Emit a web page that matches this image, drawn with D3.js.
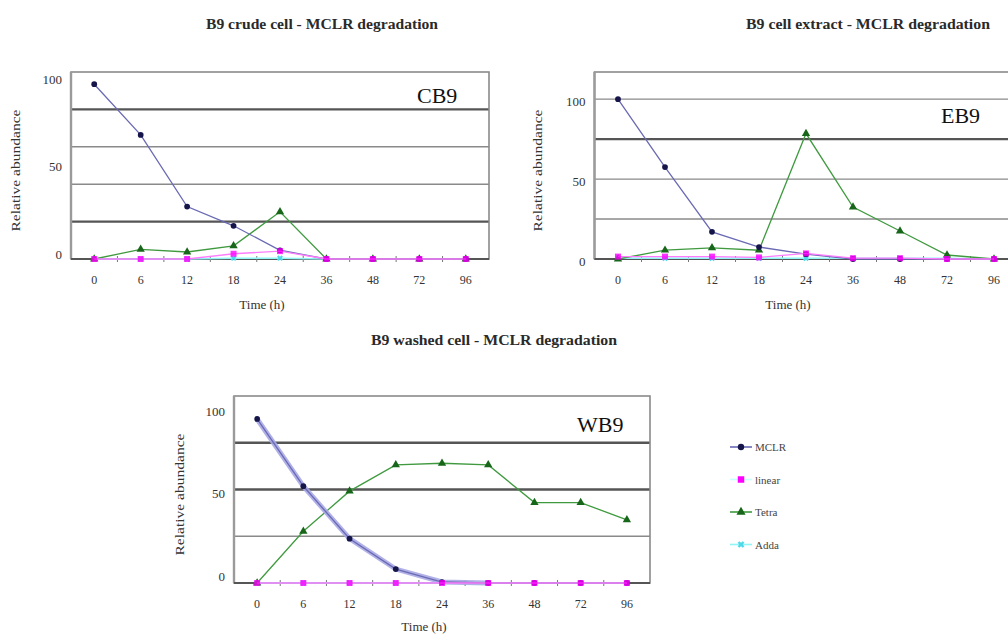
<!DOCTYPE html>
<html>
<head>
<meta charset="utf-8">
<script src="https://cdn.jsdelivr.net/npm/d3@7"></script>
<style>
  body { margin: 0; background: #fff; }
  svg { display: block; }
  svg text { font-family: "Liberation Serif", "DejaVu Serif", serif; }
</style>
</head>
<body>
<svg id="chart" width="1008" height="639"></svg>
<script>
// ─── Data ──────────────────────────────────────────────────────────────
const times = ["0", "6", "12", "18", "24", "36", "48", "72", "96"];
const yTicks = [0, 50, 100];
const seriesNames = ["MCLR", "linear", "Tetra", "Adda"];

// crude cell (CB9)
const cb9MCLR   = [100, 71, 30, 19, 5, 0, 0, 0, 0];
const cb9Linear = [0, 0, 0, 3, 4.5, 0, 0, 0, 0];
const cb9Tetra  = [0, 5.5, 4, 7.5, 27, 0, 0, 0, 0];
const cb9Adda   = [0, 0, 0, 0.5, 0.5, 0, 0, 0, 0];

// cell extract (EB9)
const eb9MCLR   = [100, 57.5, 17, 7.5, 3, 0, 0, 0, 0];
const eb9Linear = [1.5, 1.5, 1.5, 1, 3.5, 0.5, 0.5, 0, 0];
const eb9Tetra  = [0, 5.5, 7, 5.5, 78.5, 32.5, 17.5, 2.5, 0];
const eb9Adda   = [0.5, 0.5, 0.5, 0.5, 0.5, 0.5, 0.5, 0.5, 0];

// washed cell (WB9)
const wb9MCLR   = [100, 59, 27, 8.5, 0.6, 0, 0, 0, 0];
const wb9Linear = [0, 0, 0, 0, 0, 0, 0, 0, 0];
const wb9Tetra  = [0, 31.5, 56, 72, 73, 72, 49, 49, 38.5];
const wb9Adda   = [0, 0, 0, 0, 0, 0, 0, 0, 0];

// ─── Styles ────────────────────────────────────────────────────────────
const STYLE = {
  MCLR:   { line: "#6a6ab4", mark: "#15154a", shape: d3.symbolCircle, size: 26 },
  linear: { line: "#ff7cff", mark: "#ff00ff", shape: d3.symbolSquare, size: 36 },
  Tetra:  { line: "#3f9a3f", mark: "#17661a", shape: d3.symbolTriangle, size: 30 },
  Adda:   { line: "#8ff5f5", mark: "#4fd8e8", shape: d3.symbolCross, size: 22 }
};

const svg = d3.select("#chart");

const panels = [
  {
    title: "B9 crude cell - MCLR degradation", titleX: 322, titleY: 29, titleLen: 232,
    tag: "CB9", tagX: 417, tagY: 103,
    left: 71, right: 489, top: 72, bottom: 259, yMax: 107,
    grid: [1, 2, 3, 4].map(i => 107 * i / 5), heavy: [1, 4],
    yTitleX: 20, xTitleY: 309, labelDy: -5,
    series: [cb9Adda, cb9Tetra, cb9MCLR, cb9Linear]
  },
  {
    title: "B9 cell extract - MCLR degradation", titleX: 868, titleY: 29, titleLen: 244,
    tag: "EB9", tagX: 941, tagY: 123,
    left: 594.5, right: 1017.5, top: 72, bottom: 259, yMax: 117,
    grid: [25, 50, 75, 100], heavy: [3],
    yTitleX: 542, xTitleY: 309, labelDy: 2,
    series: [eb9Adda, eb9Tetra, eb9MCLR, eb9Linear]
  },
  {
    title: "B9 washed cell - MCLR degradation", titleX: 494, titleY: 345, titleLen: 246,
    tag: "WB9", tagX: 577, tagY: 432,
    left: 234, right: 650, top: 396, bottom: 583, yMax: 114,
    grid: [1, 2, 3].map(i => 114 * i / 4), heavy: [2, 3],
    yTitleX: 184, xTitleY: 631, labelDy: -7, thickMCLR: 6,
    series: [wb9Adda, wb9Tetra, wb9MCLR, wb9Linear]
  }
];
const drawOrder = ["Adda", "Tetra", "MCLR", "linear"];

function drawPanel(p) {
  const g = svg.append("g");
  const x = d3.scaleBand().domain(times).range([p.left, p.right]);
  const y = d3.scaleLinear().domain([0, p.yMax]).range([p.bottom, p.top]);
  const cx = t => x(t) + x.bandwidth() / 2;

  // title
  g.append("text").attr("x", p.titleX).attr("y", p.titleY)
    .attr("text-anchor", "middle").attr("font-size", 14).attr("font-weight", "bold")
    .attr("fill", "#2a2a2a").attr("textLength", p.titleLen).attr("lengthAdjust", "spacingAndGlyphs")
    .text(p.title);

  // gridlines
  g.selectAll(".grid").data(p.grid).join("line")
    .attr("x1", p.left).attr("x2", p.right)
    .attr("y1", d => y(d)).attr("y2", d => y(d))
    .attr("stroke", (d, i) => p.heavy.includes(i + 1) ? "#555" : "#8a8a8a")
    .attr("stroke-width", (d, i) => p.heavy.includes(i + 1) ? 2.4 : 1.4);

  // frame
  g.append("rect").attr("x", p.left).attr("y", p.top)
    .attr("width", p.right - p.left).attr("height", p.bottom - p.top)
    .attr("fill", "none").attr("stroke", "#8a8a8a").attr("stroke-width", 1.6);
  g.append("line").attr("x1", p.left).attr("x2", p.left).attr("y1", p.top).attr("y2", p.bottom)
    .attr("stroke", "#9a9a9a").attr("stroke-width", 2.4);
  g.append("line").attr("x1", p.left).attr("x2", p.right).attr("y1", p.bottom).attr("y2", p.bottom)
    .attr("stroke", "#555").attr("stroke-width", 2);

  // minor x ticks at category boundaries
  g.selectAll(".mt").data(times.slice(1)).join("line")
    .attr("x1", d => x(d)).attr("x2", d => x(d))
    .attr("y1", p.bottom - 3).attr("y2", p.bottom + 3)
    .attr("stroke", "#777").attr("stroke-width", 1);

  // axes
  const xa = g.append("g").attr("transform", `translate(0,${p.bottom})`)
    .call(d3.axisBottom(x).tickSize(0).tickPadding(16));
  xa.attr("font-family", null);
  xa.select(".domain").remove();
  xa.selectAll("text").attr("font-size", 12).attr("fill", "#333");

  const ya = g.append("g").attr("transform", `translate(${p.left},0)`)
    .call(d3.axisLeft(y).tickValues(yTicks).tickSize(0).tickPadding(9));
  ya.attr("font-family", null);
  ya.select(".domain").remove();
  ya.selectAll("text").attr("font-size", 13).attr("fill", "#333").attr("dy", p.labelDy + 4);

  // axis titles
  g.append("text").attr("x", cx("24") - 18).attr("y", p.xTitleY)
    .attr("text-anchor", "middle").attr("font-size", 13).attr("fill", "#333").text("Time (h)");
  g.append("text")
    .attr("transform", `translate(${p.yTitleX},${(p.top + p.bottom) / 2 + 5}) rotate(-90)`)
    .attr("text-anchor", "middle").attr("font-size", 13).attr("fill", "#333")
    .attr("textLength", 122).attr("lengthAdjust", "spacingAndGlyphs")
    .text("Relative abundance");

  // panel tag
  g.append("text").attr("x", p.tagX).attr("y", p.tagY)
    .attr("font-size", 22).attr("fill", "#111").text(p.tag);

  // series
  const line = d3.line().x(d => cx(d.t)).y(d => y(d.v));
  p.series.forEach((vals, i) => {
    const name = drawOrder[i];
    const st = STYLE[name];
    const pts = vals.map((v, j) => ({ t: times[j], v }));
    if (name === "MCLR" && p.thickMCLR) {
      g.append("path").datum(pts.slice(0, p.thickMCLR)).attr("d", line).attr("fill", "none")
        .attr("stroke", "#a9a9e6").attr("stroke-width", 5).attr("opacity", 0.9);
    }
    g.append("path").datum(pts).attr("d", line).attr("fill", "none")
      .attr("stroke", st.line).attr("stroke-width", name === "Adda" ? 1.5 : 1.3);
    g.selectAll(null).data(pts).join("path")
      .attr("transform", d => `translate(${cx(d.t)},${y(d.v)})${name === "Adda" ? " rotate(45)" : ""}`)
      .attr("d", d3.symbol().type(st.shape).size(st.size))
      .attr("fill", st.mark).attr("opacity", name === "linear" ? 0.8 : 1);
  });
}

panels.forEach(drawPanel);

// ─── Legend ────────────────────────────────────────────────────────────
const legend = svg.append("g").attr("transform", "translate(730,447)");
seriesNames.forEach((name, i) => {
  const st = STYLE[name];
  const row = legend.append("g").attr("transform", `translate(0,${i * 32.5})`);
  row.append("line").attr("x1", 0).attr("x2", 22).attr("y1", 0).attr("y2", 0)
    .attr("stroke", name === "linear" ? "#c8ffff" : st.line).attr("stroke-width", 1.6);
  row.append("path").attr("transform", `translate(11,0)${name === "Adda" ? " rotate(45)" : ""}`)
    .attr("d", d3.symbol().type(st.shape).size(st.size + 6)).attr("fill", st.mark);
  row.append("text").attr("x", 25).attr("y", 4).attr("font-size", 11)
    .attr("fill", "#444").text(name);
});
</script>
</body>
</html>
